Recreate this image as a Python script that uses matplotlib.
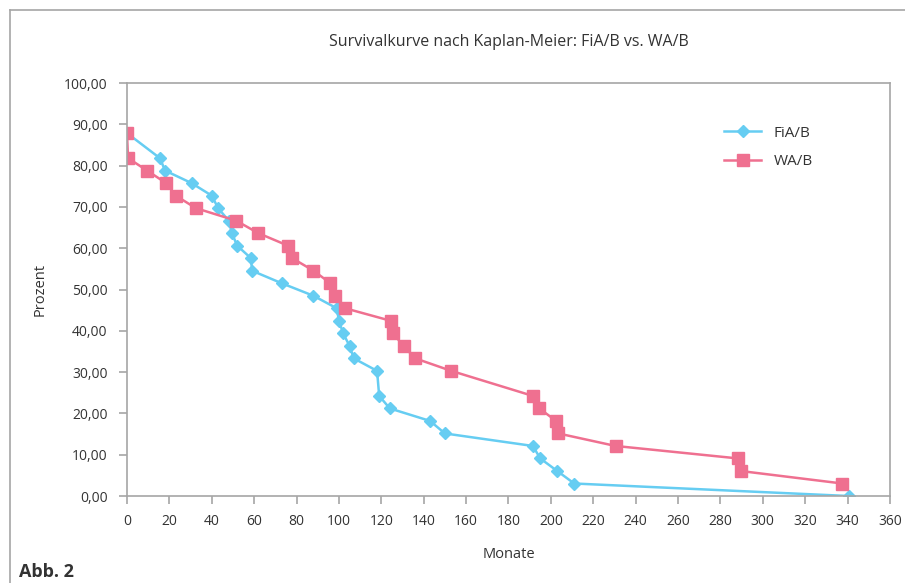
import matplotlib.pyplot as plt
from matplotlib.lines import Line2D
from matplotlib.ticker import FuncFormatter

plt.rcParams['font.family'] = ['Open Sans', 'DejaVu Sans']

# Kaplan-Meier Werte (Monate, Prozent)
fia_x = [0, 15.5, 18, 30.5, 40, 43, 48, 49.5, 52, 58.5, 59, 73, 88, 99, 100, 102, 105, 107,
         118, 119, 124, 143, 150, 191.5, 195, 203, 211, 340.5]
fia_y = [87.88, 81.82, 78.79, 75.76, 72.73, 69.70, 66.67, 63.64, 60.61, 57.58, 54.55, 51.52,
         48.48, 45.45, 42.42, 39.39, 36.36, 33.33, 30.30, 24.24, 21.21, 18.18, 15.15, 12.12,
         9.09, 6.06, 3.03, 0.0]

wa_x = [0, 0.5, 9.5, 18.5, 23, 32.5, 51.5, 62, 76, 78, 88, 96, 98, 103, 124.5, 125.5, 130.5,
        136, 153, 191.5, 194.5, 202.5, 203.5, 230.5, 288.5, 289.5, 337.5]
wa_y = [87.88, 81.82, 78.79, 75.76, 72.73, 69.70, 66.67, 63.64, 60.61, 57.58, 54.55, 51.52,
        48.48, 45.45, 42.42, 39.39, 36.36, 33.33, 30.30, 24.24, 21.21, 18.18, 15.15, 12.12,
        9.09, 6.06, 3.03]

x_ticks = list(range(0, 361, 20))
y_ticks = list(range(0, 101, 10))

blue = '#66CDF2'
pink = '#EF7090'
grey = '#A6A6A6'
txt = '#333333'

fig = plt.figure(figsize=(9.05, 5.83), dpi=100)
ax = fig.add_axes([0.1403, 0.1492, 0.8431, 0.7084])

ax.plot(fia_x, fia_y, color=blue, lw=1.8, marker='D', ms=6.5, mec=blue, mfc=blue, label='FiA/B')
ax.plot(wa_x, wa_y, color=pink, lw=1.8, marker='s', ms=9, mec=pink, mfc=pink, label='WA/B')

ax.set_xlim(0, 360)
ax.set_ylim(0, 100)
ax.set_xticks(x_ticks)
ax.set_yticks(y_ticks)
ax.yaxis.set_major_formatter(FuncFormatter(lambda v, p: f'{v:.2f}'.replace('.', ',')))
ax.tick_params(axis='both', colors=grey, labelcolor=txt, labelsize=10, length=6, width=1.2)
ax.tick_params(axis='x', pad=7)
ax.tick_params(axis='y', pad=8)
for s in ax.spines.values():
    s.set_color(grey)
    s.set_linewidth(1.2)

ax.set_title('Survivalkurve nach Kaplan-Meier: FiA/B vs. WA/B', fontsize=11.5, color=txt, pad=27)
ax.set_xlabel('Monate', fontsize=10.5, color=txt, labelpad=13)
ax.set_ylabel('Prozent', fontsize=10.5, color=txt, labelpad=12)

ax.legend(loc='upper left', bbox_to_anchor=(0.765, 0.93), frameon=False, fontsize=11,
          handlelength=2.4, labelspacing=0.9, labelcolor=txt)

# aeusserer Rahmen
fig.add_artist(Line2D([0.011, 1.0], [0.983, 0.983], transform=fig.transFigure, color=grey, lw=1.2))
fig.add_artist(Line2D([0.011, 0.011], [0.983, 0.0], transform=fig.transFigure, color=grey, lw=1.2))

fig.text(0.021, 0.003, 'Abb. 2', fontsize=13, fontweight='bold', color=txt, ha='left', va='bottom')

plt.savefig('out.png', dpi=100)
